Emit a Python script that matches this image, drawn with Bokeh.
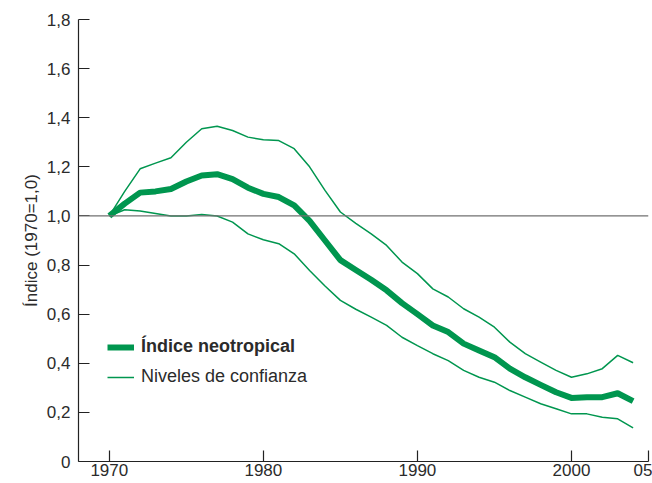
from bokeh.plotting import figure
from bokeh.models import Range1d, FixedTicker, Legend, LegendItem, Span
from bokeh.embed import file_html
from bokeh.resources import INLINE

years = list(range(1970, 2005))
index_main = [1.00, 1.05, 1.095, 1.10, 1.11, 1.14, 1.165, 1.17, 1.15, 1.115,
              1.09, 1.077, 1.043, 0.98, 0.90, 0.82, 0.78, 0.74, 0.697, 0.645,
              0.60, 0.554, 0.527, 0.48, 0.452, 0.425, 0.378, 0.343, 0.312, 0.282,
              0.259, 0.262, 0.262, 0.278, 0.246]
upper_ci = [1.00, 1.10, 1.192, 1.215, 1.237, 1.30, 1.355, 1.365, 1.348, 1.321,
            1.31, 1.307, 1.274, 1.20, 1.104, 1.016, 0.97, 0.927, 0.88, 0.812,
            0.765, 0.703, 0.67, 0.622, 0.588, 0.547, 0.486, 0.439, 0.405, 0.371,
            0.343, 0.357, 0.378, 0.432, 0.402]
lower_ci = [1.00, 1.025, 1.02, 1.01, 1.00, 1.00, 1.006, 1.00, 0.975, 0.927,
            0.903, 0.887, 0.846, 0.778, 0.715, 0.656, 0.62, 0.588, 0.554, 0.506,
            0.472, 0.439, 0.411, 0.371, 0.343, 0.323, 0.289, 0.262, 0.235, 0.215,
            0.194, 0.194, 0.18, 0.174, 0.137]

x_ticks = [1970, 1980, 1990, 2000, 2005]
x_tick_labels = ["1970", "1980", "1990", "2000", "05"]
y_ticks = [0, 0.2, 0.4, 0.6, 0.8, 1.0, 1.2, 1.4, 1.6, 1.8]
y_tick_labels = ["0", "0,2", "0,4", "0,6", "0,8", "1,0", "1,2", "1,4", "1,6", "1,8"]

GREEN = "#00964f"
FONT = "Liberation Sans"
TXT = "#2b2b2b"

p = figure(width=652, height=483, output_backend="svg", toolbar_location=None,
           x_range=Range1d(1968, 2005), y_range=Range1d(0, 1.8),
           min_border_left=78, min_border_right=4, min_border_top=19, min_border_bottom=22)
p.outline_line_color = None
p.xgrid.grid_line_color = None
p.ygrid.grid_line_color = None
p.background_fill_color = "white"
p.border_fill_color = "white"

ref = Span(location=1.0, dimension="width", line_color="#707070", line_width=1.3)
p.add_layout(ref)

r_up = p.line(years, upper_ci, line_color=GREEN, line_width=1.5)
r_lo = p.line(years, lower_ci, line_color=GREEN, line_width=1.5)
r_main = p.line(years, index_main, line_color=GREEN, line_width=6, line_join="round")

for ax in (p.xaxis[0], p.yaxis[0]):
    ax.major_tick_in = 11
    ax.major_tick_out = 0
    ax.minor_tick_line_color = None
    ax.axis_line_color = "#222222"
    ax.major_tick_line_color = "#222222"
    ax.axis_line_width = 1.2
    ax.major_tick_line_width = 1.2
    ax.major_label_text_font = FONT
    ax.major_label_text_font_size = "17px"
    ax.major_label_text_color = TXT

p.xaxis.ticker = FixedTicker(ticks=x_ticks)
p.xaxis.major_label_overrides = {t: l for t, l in zip(x_ticks, x_tick_labels)}
p.xaxis.major_label_standoff = 2

p.yaxis.ticker = FixedTicker(ticks=y_ticks)
p.yaxis.major_label_overrides = {t: l for t, l in zip(y_ticks, y_tick_labels)}
p.yaxis.major_label_standoff = 8
p.yaxis.axis_label = "Índice (1970=1,0)"
p.yaxis.axis_label_text_font = FONT
p.yaxis.axis_label_text_font_style = "normal"
p.yaxis.axis_label_text_font_size = "17px"
p.yaxis.axis_label_text_color = TXT
p.yaxis.axis_label_standoff = 3

def make_legend(label, renderer, style, loc):
    lg = Legend(items=[LegendItem(label=label, renderers=[renderer])],
                location=loc, padding=0, margin=0, spacing=0,
                border_line_color=None, background_fill_alpha=0,
                glyph_width=27, glyph_height=20, label_standoff=7,
                label_text_font=FONT, label_text_font_size="18px",
                label_text_font_style=style, label_text_color=TXT)
    p.add_layout(lg, "center")

make_legend("Índice neotropical", r_main, "bold", (29, 104))
make_legend("Niveles de confianza", r_up, "normal", (29, 74))

open("out.html", "w").write(file_html(p, INLINE))
